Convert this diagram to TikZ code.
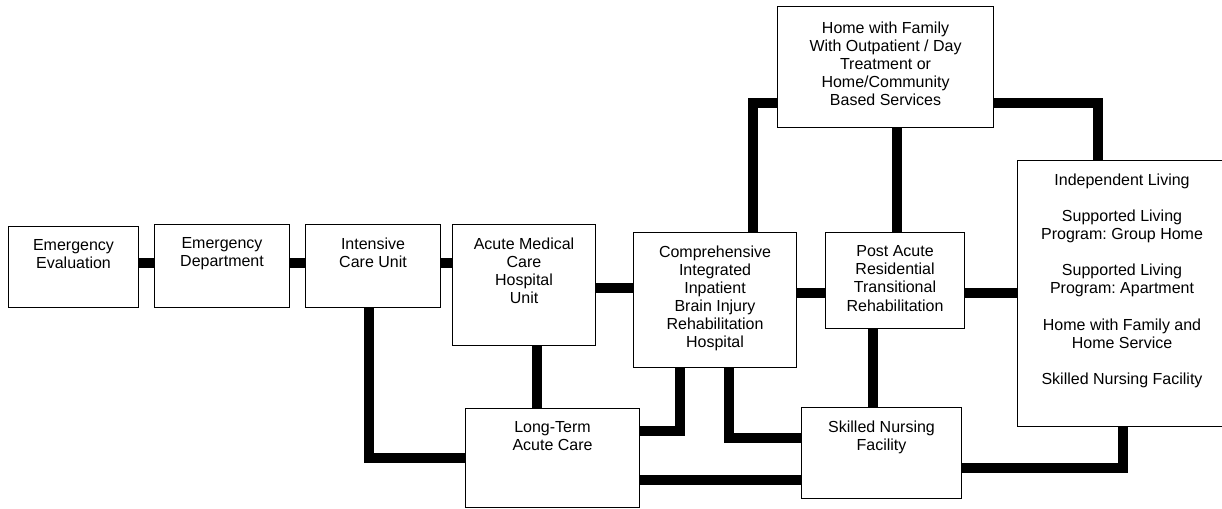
\documentclass[tikz,border=0pt]{standalone}
\usepackage{fontspec}
\setmainfont{Liberation Sans}
\frenchspacing
\tikzset{
  box/.style={draw=black, line width=0.8pt, fill=white, rectangle, inner sep=0pt, anchor=north west},
  conn/.style={draw=black, line width=7.8pt, line join=miter, line cap=butt}
}
\newcommand\mybox[6]{%
  \node[box] (#1) at (#2,#3) {\parbox[c][\dimexpr 3pt*(#5-#3)/4\relax][t]{\dimexpr 3pt*(#4-#2)/4\relax}{\centering\fontsize{12}{13.6}\selectfont\frenchspacing\vspace*{9.8pt}#6\par}};}
\begin{document}
\begin{tikzpicture}[x=0.75pt,y=-0.75pt]
\useasboundingbox (0,0) rectangle (1222,508);
\clip (0,0) rectangle (1222,508);
% boxes
\mybox{ee}{8}{226}{138}{307}{Emergency\\Evaluation}
\mybox{ed}{154}{224}{289}{307}{Emergency\\Department}
\mybox{icu}{305}{224}{440}{307}{Intensive\\Care Unit}
\mybox{amc}{452}{224}{595}{345}{Acute Medical\\Care\\Hospital\\Unit}
\mybox{comp}{633}{232}{796}{367}{Comprehensive\\Integrated\\Inpatient\\Brain Injury\\Rehabilitation\\Hospital}
\mybox{ltac}{465}{408}{639}{507}{Long-Term\\Acute Care}
\mybox{snf}{801}{407}{961}{498}{Skilled Nursing\\Facility}
\mybox{pa}{825}{232}{964}{328}{Post Acute\\Residential\\Transitional\\Rehabilitation}
\mybox{home}{777}{6}{993}{127}{\vspace*{1.5pt}Home with Family\\With Outpatient / Day\\Treatment or\\Home/Community\\Based Services}
\mybox{il}{1017}{160}{1226}{426}{Independent Living\\[13.6pt]Supported Living\\Program: Group Home\\[13.6pt]Supported Living\\Program: Apartment\\[13.6pt]Home with Family and\\Home Service\\[13.6pt]Skilled Nursing Facility}
% helper coordinates
\coordinate (yA) at (0,263);
\coordinate (xB) at (369,0);
\coordinate (xC) at (537,0);
\coordinate (yD) at (0,288);
\coordinate (yE) at (0,293);
\coordinate (xF) at (680,0);
\coordinate (yF) at (0,431);
\coordinate (xG) at (729,0);
\coordinate (yG) at (0,438);
\coordinate (yH) at (0,480);
\coordinate (xI) at (753,0);
\coordinate (yI) at (0,103);
\coordinate (xJ) at (897,0);
\coordinate (xK) at (1098,0);
\coordinate (xL) at (873,0);
\coordinate (xM) at (1123,0);
\coordinate (yM) at (0,468);
% connectors
\draw[conn] (ee.east |- yA) -- (ed.west |- yA);
\draw[conn] (ed.east |- yA) -- (icu.west |- yA);
\draw[conn] (icu.east |- yA) -- (amc.west |- yA);
\draw[conn] (icu.south -| xB) |- (ltac.west);
\draw[conn] (amc.south -| xC) -- (ltac.north -| xC);
\draw[conn] (amc.east |- yD) -- (comp.west |- yD);
\draw[conn] (comp.east |- yE) -- (pa.west |- yE);
\draw[conn] (pa.east |- yE) -- (il.west |- yE);
\draw[conn] (comp.south -| xF) |- (ltac.east |- yF);
\draw[conn] (comp.south -| xG) |- (snf.west |- yG);
\draw[conn] (ltac.east |- yH) -- (snf.west |- yH);
\draw[conn] (comp.north -| xI) |- (home.west |- yI);
\draw[conn] (home.south -| xJ) -- (pa.north -| xJ);
\draw[conn] (home.east |- yI) -| (il.north -| xK);
\draw[conn] (pa.south -| xL) -- (snf.north -| xL);
\draw[conn] (snf.east |- yM) -| (il.south -| xM);
\end{tikzpicture}
\end{document}
